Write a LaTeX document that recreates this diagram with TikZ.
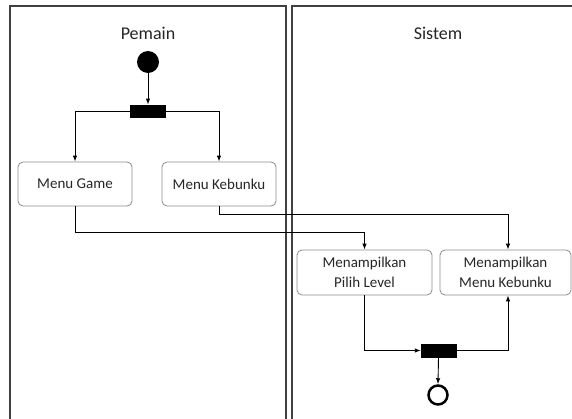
\documentclass[tikz,border=0pt]{standalone}
\usepackage{fontspec}
\setmainfont{Carlito}
\usetikzlibrary{arrows.meta,calc}
\begin{document}
\begin{tikzpicture}[x=1pt,y=-1pt,
  frame/.style={draw=black!75,line width=1.5pt},
  title/.style={font=\fontsize{18}{20}\selectfont,text=black!85},
  actbox/.style={draw=black!45,line width=0.8pt,rounded corners=5pt,align=center,
    font=\fontsize{15}{20}\selectfont,text=black!85,inner sep=0pt},
  bar/.style={fill=black,draw=black,minimum width=35pt,minimum height=12.5pt,inner sep=0pt},
  flow/.style={draw=black,line width=0.9pt,-{Latex[length=6pt,width=4.5pt]}},
  link/.style={draw=black,line width=0.9pt}]
\useasboundingbox (0,0) rectangle (572,418);
\fill[white] (0,0) rectangle (572,418);
% lanes
\draw[frame] (10,420) -- (10,6) -- (286,6) -- (286,420);
\draw[frame] (292,420) -- (292,6) -- (574,6);
\node[title] (t1) at (148,33) {Pemain};
\node[title] (t2) at (438,33) {Sistem};
% nodes
\node[circle,fill=black,minimum size=22pt,inner sep=0pt] (start) at (148,62) {};
\node[bar] (fork) at (148,111) {};
\node[actbox,minimum width=114pt,minimum height=44pt] (mg) at (75,184) {Menu Game};
\node[actbox,minimum width=114pt,minimum height=44pt] (mk) at (219,184) {Menu Kebunku};
\node[actbox,minimum width=135pt,minimum height=45pt] (pl) at (364.5,272.5) {Menampilkan\\Pilih Level};
\node[actbox,minimum width=131pt,minimum height=45pt] (mmk) at (505.5,272.5) {Menampilkan\\Menu Kebunku};
\node[bar] (join) at (438.5,350.5) {};
\node[circle,draw=black,line width=2.5pt,minimum size=19pt,inner sep=0pt] (end) at (438,395) {};
% connectors
\draw[flow] (start) -- (fork);
\draw[flow] (fork.west) -| (mg.north);
\draw[flow] (fork.east) -| (mk.north);
\draw[flow] (mg.south) -- ++(0,26) -| (pl.north);
\draw[flow] (mk.south) -- ++(0,8) -| ([xshift=2.5pt]mmk.north);
\draw[flow] (pl.south) |- (join.west);
\draw[flow] (join.east) -| ([xshift=2.5pt]mmk.south);
\draw[flow] (join.south) -- (end.north);
\end{tikzpicture}
\end{document}
